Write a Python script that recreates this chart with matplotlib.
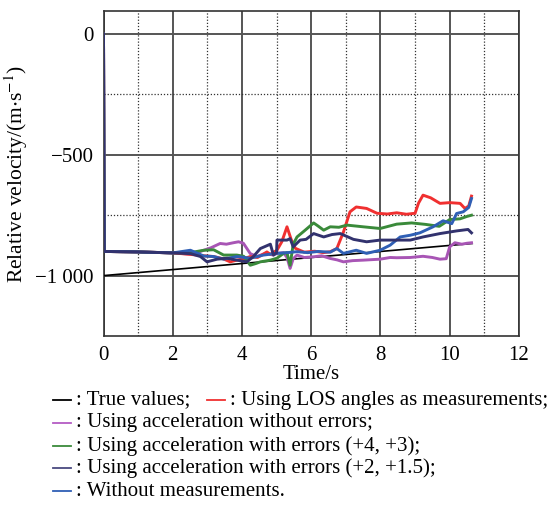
import matplotlib
matplotlib.use("Agg")
import matplotlib.pyplot as plt
from matplotlib.lines import Line2D
from matplotlib.ticker import FixedLocator

plt.rcParams["font.family"] = ["Liberation Serif", "DejaVu Serif"]
plt.rcParams["mathtext.fontset"] = "stix"

# ── DATA (time in s, relative velocity in m/s) ────────────────────────────────
t_true = [0.0, 10.65]
v_true = [-1000, -867]

t_los = [0, 0.02, 1.0, 2.0, 2.5, 2.9, 3.18, 3.45, 3.66, 3.85, 4.05, 4.24, 4.45,
         4.72, 4.82, 5.01, 5.15, 5.3, 5.42, 5.54, 5.8, 6.1, 6.35, 6.55, 6.74,
         6.93, 7.12, 7.3, 7.6, 7.9, 8.2, 8.47, 8.75, 9.0, 9.1, 9.23, 9.45,
         9.72, 10.0, 10.3, 10.44, 10.55, 10.63]
v_los = [0, -900, -902, -906, -912, -918, -921, -930, -943, -936, -930, -921,
         -925, -902, -912, -895, -860, -798, -850, -887, -903, -899, -905,
         -901, -888, -820, -736, -716, -722, -742, -745, -740, -746, -742,
         -700, -667, -678, -701, -698, -701, -722, -712, -671]

t_acc = [0, 0.02, 1.0, 2.0, 2.51, 2.7, 2.9, 3.1, 3.37, 3.55, 3.75, 3.9, 4.04,
         4.24, 4.43, 4.6, 4.72, 4.9, 5.01, 5.2, 5.3, 5.39, 5.48, 5.59, 5.8,
         6.07, 6.3, 6.55, 6.75, 6.93, 7.2, 7.5, 7.99, 8.28, 8.47, 8.86, 9.23,
         9.5, 9.72, 9.9, 10.0, 10.15, 10.35, 10.5, 10.63]
v_acc = [0, -900, -902, -906, -911, -905, -895, -885, -867, -870, -864, -860,
         -866, -909, -921, -912, -908, -915, -908, -905, -925, -970, -930,
         -915, -925, -922, -918, -929, -935, -943, -938, -936, -932, -925,
         -926, -925, -920, -925, -932, -930, -881, -864, -870, -866, -864]

t_err1 = [0, 0.02, 1.0, 2.0, 2.5, 2.9, 3.18, 3.47, 3.85, 4.05, 4.24, 4.4, 4.53,
          4.82, 5.01, 5.2, 5.3, 5.39, 5.48, 5.59, 5.8, 6.07, 6.2, 6.36, 6.55,
          6.8, 7.03, 7.5, 7.99, 8.47, 8.9, 9.3, 9.7, 10.0, 10.3, 10.5, 10.63]
v_err1 = [0, -900, -902, -906, -905, -895, -893, -915, -915, -920, -957, -950,
          -943, -936, -928, -908, -905, -957, -870, -840, -815, -782, -795,
          -812, -798, -800, -791, -798, -805, -787, -782, -788, -796, -768,
          -765, -755, -750]

t_err2 = [0, 0.02, 1.0, 2.0, 2.51, 2.8, 2.99, 3.28, 3.57, 3.85, 4.14, 4.33,
          4.53, 4.82, 4.91, 5.0, 5.01, 5.3, 5.39, 5.48, 5.68, 5.85, 6.07,
          6.36, 6.6, 6.84, 7.22, 7.6, 7.99, 8.28, 8.86, 9.23, 9.72, 10.2,
          10.53, 10.63]
v_err2 = [0, -900, -902, -906, -909, -921, -943, -932, -928, -936, -943,
          -921, -888, -870, -915, -905, -853, -853, -847, -881, -853, -850,
          -826, -840, -830, -826, -850, -860, -853, -853, -853, -840, -826,
          -815, -809, -823]

t_none = [0, 0.02, 1.0, 2.0, 2.51, 2.9, 3.18, 3.47, 3.85, 4.24, 4.62, 5.01,
          5.3, 5.59, 5.9, 6.2, 6.55, 6.74, 6.93, 7.3, 7.6, 7.99, 8.28, 8.57,
          8.86, 9.14, 9.52, 9.81, 10.06, 10.2, 10.39, 10.55, 10.63]
v_none = [0, -900, -902, -906, -895, -919, -921, -932, -921, -928, -915,
          -908, -905, -901, -905, -900, -903, -888, -908, -895, -908, -895,
          -874, -840, -833, -823, -798, -773, -785, -743, -736, -718, -681]

x_ticks = [0, 2, 4, 6, 8, 10, 12]
y_ticks = [0, -500, -1000]
y_tick_labels = ["0", "\u2212500", "\u22121 000"]

series = [
    (t_true, v_true, "black"),
    (t_acc, v_acc, "#a855b5"),
    (t_los, v_los, "#f03030"),
    (t_err1, v_err1, "#3a8a3a"),
    (t_none, v_none, "#2f5fb5"),
    (t_err2, v_err2, "#32326e"),
]

legend_rows = [
    [("black", ": True values;"), ("#f03030", ": Using LOS angles as measurements;")],
    [("#b45cc4", ": Using acceleration without errors;")],
    [("#3a8a3a", ": Using acceleration with errors (+4, +3);")],
    [("#4a4a80", ": Using acceleration with errors (+2, +1.5);")],
    [("#2f5fb5", ": Without measurements.")],
]

# ── FIGURE ────────────────────────────────────────────────────────────────────
fig = plt.figure(figsize=(5.55, 5.12), dpi=100)
ax = fig.add_axes([0.1865, 0.3437, 0.7485, 0.6348])

for t, v, c in series:
    lw = 1.2 if c == "black" else 2.1
    ax.plot(t, v, color=c, linewidth=lw, zorder=3)

ax.set_xlim(0, 12)
ax.set_ylim(-1250, 95)
ax.xaxis.set_major_locator(FixedLocator(x_ticks))
ax.xaxis.set_minor_locator(FixedLocator([1, 3, 5, 7, 9, 11]))
ax.yaxis.set_major_locator(FixedLocator(y_ticks))
ax.yaxis.set_minor_locator(FixedLocator([-250, -750]))
ax.set_yticklabels(y_tick_labels)
ax.set_xticklabels([str(v) for v in x_ticks])

ax.grid(which="major", color="#555555", linewidth=1.4, linestyle="-", zorder=1)
ax.grid(which="minor", color="#333333", linewidth=0.9, linestyle=(0, (1, 1.5)), zorder=1)
ax.tick_params(which="both", direction="in", labelsize=15, length=0, pad=7)
for s in ax.spines.values():
    s.set_color("#333333")
    s.set_linewidth(1.2)

ax.set_xlabel("Time/s", fontsize=15, labelpad=0)
ax.set_ylabel(r"Relative velocity/(m$\cdot$s$^{-1}$)", fontsize=15.5, labelpad=4)

# legend written as text lines under the plot
row_y = [400, 423, 446, 468, 491]
row_x = [53, 207]
for y_px, row in zip(row_y, legend_rows):
    yf = 1 - y_px / 512
    for x_px, (c, label) in zip(row_x, row):
        fig.add_artist(Line2D([x_px / 555, (x_px + 18) / 555], [yf, yf],
                              color=c, linewidth=1.3, transform=fig.transFigure))
        fig.text((x_px + 23) / 555, yf, label, fontsize=15,
                 va="center", ha="left")

fig.savefig("out.png", dpi=100)
